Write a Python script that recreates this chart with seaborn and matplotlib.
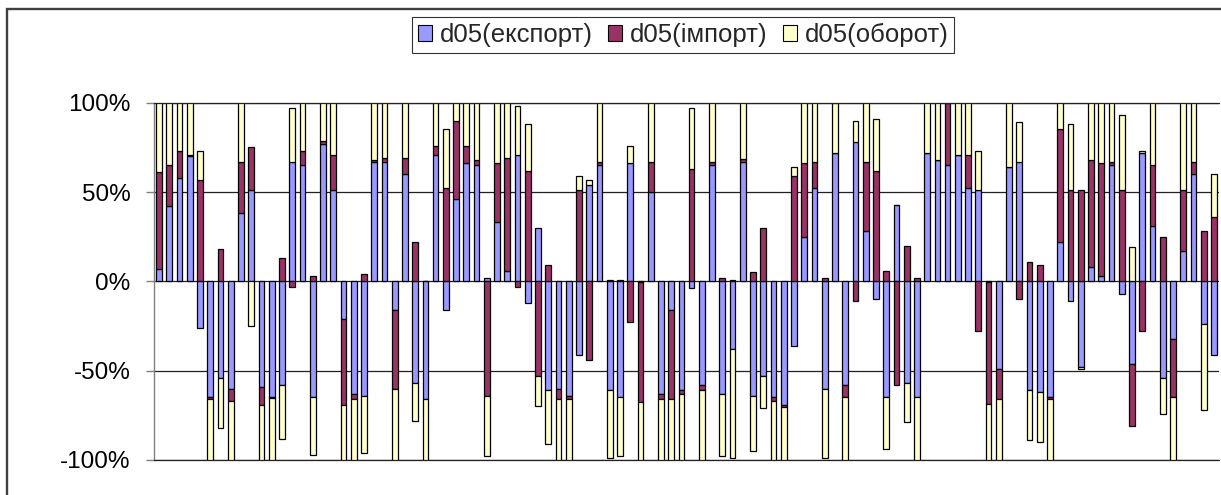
import numpy as np
import pandas as pd
import matplotlib
matplotlib.use("Agg")
import matplotlib.pyplot as plt
from matplotlib.patches import Patch, Rectangle
from matplotlib.ticker import FuncFormatter
import seaborn as sns

# d05 values per category, in percent (values past +-100% are clipped by the axis)
export = [7, 42, 58, 70, -26, -65, -54, -60, 38, 51,
          -59, -65, -58, 67, 65, -65, 77, 51, -21, -63,
          -64, 67, 67, -16, 60, -57, -66, 71, -16, 46,
          66, 65, 2, 33, 6, 71, -12, 30, -61, -60,
          -64, -41, 54, 65, -61, -65, 66, -0.5, 50, -63,
          -16, -61, -4, -58, 65, -63, -38, 67, -64, -53,
          -65, -69, -36, 25, 52, -60, 72, -58, 78, 28,
          -10, -65, 43, -57, -65, 72, 68, 65, 71, 52,
          51, -0.5, -49, 64, 67, -61, -62, -65, 22, -11,
          -48, 8, 3, 65, -7, -46, 72, 31, -54, -32,
          17, 60, -24, -41]
imports = [54, 23, 15, 0.5, 57, -1, 18, -7, 29, 24,
           -10, -0.5, 13, -3, 8, 3, 1.5, 20, -48, -3,
           4, 1, 2, -44, 9, 22, 0, 5, 52, 44,
           10, 3, -64, 33, 63, -3, 62, -53, 9, -6,
           -2, 51, -44, 2, 1, 1, -23, -67, 17, -3,
           -50, -2, 63, -3, 2, 2, 1, 1.5, 5, 30,
           -2, -1.5, 59, 41, 15, 2, 0, -7, -11, 39,
           62, 6, -58, 20, 2, 0, 0, 35, 0, 19,
           -28, -68, -17, 0, -10, 11, 9, -1, 63, 51,
           51, 60, 63, 2, 51, -35, -28, 34, 25, -33,
           34, 7, 28, 36]
turnover = [45, 40, 35, 35, 16, -40, -28, -40, 40, -25,
            -35, -40, -30, 30, 35, -32, 30, 35, -35, -40,
            -32, 40, 40, -45, 40, -21, -40, 30, 33, 20,
            30, 40, -34, 40, 40, 27, 26, -17, -30, -40,
            -40, 8, 3, 40, -38, -33, 10, -40, 40, -40,
            -40, -40, 34, -45, 40, -35, -61, 40, -31, -18,
            -40, -35, 5, 40, 40, -39, 28, -40, 12, 40,
            29, -29, 0, -22, -40, 35, 40, 5, 35, 35,
            22, -40, -40, 40, 22, -28, -28, -40, 20, 37,
            -1, 40, 40, 40, 42, 19, 1, 40, -20, -40,
            55, 40, -48, 24]

series_names = ["d05(експорт)", "d05(імпорт)", "d05(оборот)"]
series_colors = ["#9999FF", "#993366", "#FFFFCC"]

categories = np.arange(len(export))
df = pd.DataFrame({"cat": categories,
                   series_names[0]: np.array(export) / 100,
                   series_names[1]: np.array(imports) / 100,
                   series_names[2]: np.array(turnover) / 100})

sns.set_style("white")
plt.rcParams["font.family"] = ["Liberation Sans", "DejaVu Sans"]

W, H = 1221, 495
fig = plt.figure(figsize=(W / 100, H / 100), dpi=100)
ax = fig.add_axes([154 / W, 35 / H, 1065 / W, 357.3 / H])

# stacked columns: positives build up from 0, negatives down from 0
pos_base = np.zeros(len(df))
neg_base = np.zeros(len(df))
for name, col in zip(series_names, series_colors):
    vals = df[name].to_numpy()
    bottom = np.where(vals >= 0, pos_base, neg_base)
    sns.barplot(x=df["cat"], y=vals, bottom=bottom, color=col, saturation=1,
                width=0.56, edgecolor="black", linewidth=0.9, errorbar=None,
                orient="x", ax=ax, zorder=3)
    pos_base += np.clip(vals, 0, None)
    neg_base += np.clip(vals, None, 0)

ax.set_xlim(-0.5, len(df) - 0.5)
ax.set_ylim(-1, 1)
ax.set_yticks([-1, -0.5, 0, 0.5, 1])
ax.yaxis.set_major_formatter(FuncFormatter(lambda v, p: f"{v * 100:.0f}%"))
ax.set_xticks([])
ax.set_xlabel("")
ax.set_ylabel("")
ax.tick_params(axis="y", direction="out", length=6, width=1, color="#808080",
               labelsize=17.5, pad=11, left=True, labelcolor="black")
ax.yaxis.grid(True, color="#202020", linewidth=0.9, zorder=1)
ax.set_axisbelow(True)
# edge gridlines drawn unclipped so they stay full width over clipped columns
for yv in (1, -1):
    ax.axhline(yv, color="#202020", linewidth=0.9, clip_on=False, zorder=5)
for s in ["top", "right", "bottom"]:
    ax.spines[s].set_visible(False)
ax.spines["left"].set_color("#808080")
ax.spines["left"].set_linewidth(1)

handles = [Patch(facecolor=c, edgecolor="black", linewidth=0.8) for c in series_colors]
leg = fig.legend(handles, series_names, loc="center", bbox_to_anchor=(683 / W, 1 - 35 / H),
                 ncol=3, fontsize=18.5, frameon=True, fancybox=False, handlelength=0.55,
                 handleheight=0.55, handletextpad=0.3, columnspacing=0.6,
                 borderpad=0.22, borderaxespad=0)
leg.get_frame().set_edgecolor("black")
leg.get_frame().set_linewidth(0.8)

# outer chart border (only top and left edges fall inside the picture)
fig.add_artist(Rectangle((7 / W, -0.1), 1.2, (1 - 8.5 / H) + 0.1, transform=fig.transFigure,
                         fill=False, edgecolor="#404040", linewidth=1.7))

fig.savefig("out.png", dpi=100)
